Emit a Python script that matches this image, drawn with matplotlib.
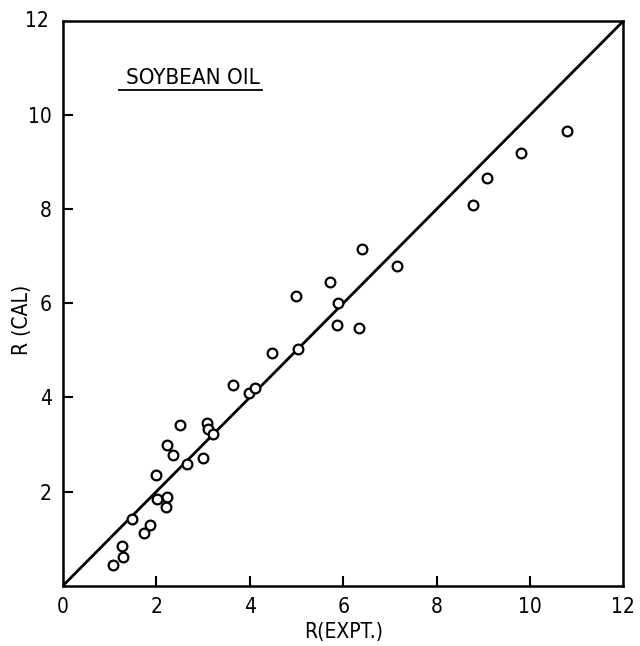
import matplotlib
matplotlib.use('Agg')
import matplotlib.pyplot as plt

plt.rcParams['font.family'] = ['DejaVu Sans']
plt.rcParams['font.stretch'] = 'condensed'

# measured vs calculated R values for soybean oil
r_expt = [1.08, 1.28, 1.26, 1.47, 1.74, 1.86, 1.99, 2.01, 2.23, 2.20, 2.22, 2.36,
          2.50, 2.65, 2.99, 3.08, 3.10, 3.22, 3.65, 3.99, 4.11, 4.47, 5.04, 4.99,
          5.72, 5.90, 5.86, 6.33, 6.40, 7.15, 8.79, 9.09, 9.80, 10.80]
r_cal = [0.43, 0.61, 0.85, 1.41, 1.12, 1.29, 2.36, 1.84, 1.89, 1.67, 2.98, 2.77,
         3.41, 2.59, 2.71, 3.46, 3.32, 3.23, 4.27, 4.10, 4.20, 4.94, 5.02, 6.15,
         6.45, 6.00, 5.54, 5.47, 7.16, 6.79, 8.09, 8.67, 9.20, 9.66]

ticks = [0, 2, 4, 6, 8, 10, 12]
tick_labels = ['0', '2', '4', '6', '8', '10', '12']

fig = plt.figure(figsize=(6.4, 6.46), dpi=100)
ax = fig.add_axes([0.0984, 0.0934, 0.8756, 0.8741])

ax.plot([0, 12], [0, 12], color='black', linewidth=2.0)
ax.plot(r_expt, r_cal, linestyle='none', marker='o', markersize=7,
        markerfacecolor='white', markeredgecolor='black', markeredgewidth=1.6)

ax.set_xlim(0, 12)
ax.set_ylim(0, 12)
ax.set_xticks(ticks[1:-1])
ax.set_yticks(ticks[1:-1])
ax.set_xticklabels(tick_labels[1:-1])
ax.set_yticklabels(tick_labels[1:-1])
ax.tick_params(direction='in', length=7, width=1.5, labelsize=15,
               top=False, right=False, pad=8)
for s in ax.spines.values():
    s.set_linewidth(1.8)

# corner labels sit at the axis ends
ax.text(0, -0.25, '0', ha='center', va='top', fontsize=15)
ax.text(12, -0.25, '12', ha='center', va='top', fontsize=15)
ax.text(-0.3, 12, '12', ha='right', va='center', fontsize=15)

ax.set_xlabel('R(EXPT.)', fontsize=15)
ax.xaxis.set_label_coords(0.5, -0.082)
ax.xaxis.label.set_va('center')
ax.set_ylabel('R (CAL)', fontsize=15)
ax.yaxis.set_label_coords(-0.073, 0.47)
ax.yaxis.label.set_va('center')

ax.text(2.78, 10.79, 'SOYBEAN OIL', ha='center', va='center', fontsize=16)
ax.plot([1.2, 4.26], [10.54, 10.54], color='black', linewidth=1.3)

fig.savefig('out.png', dpi=100)
